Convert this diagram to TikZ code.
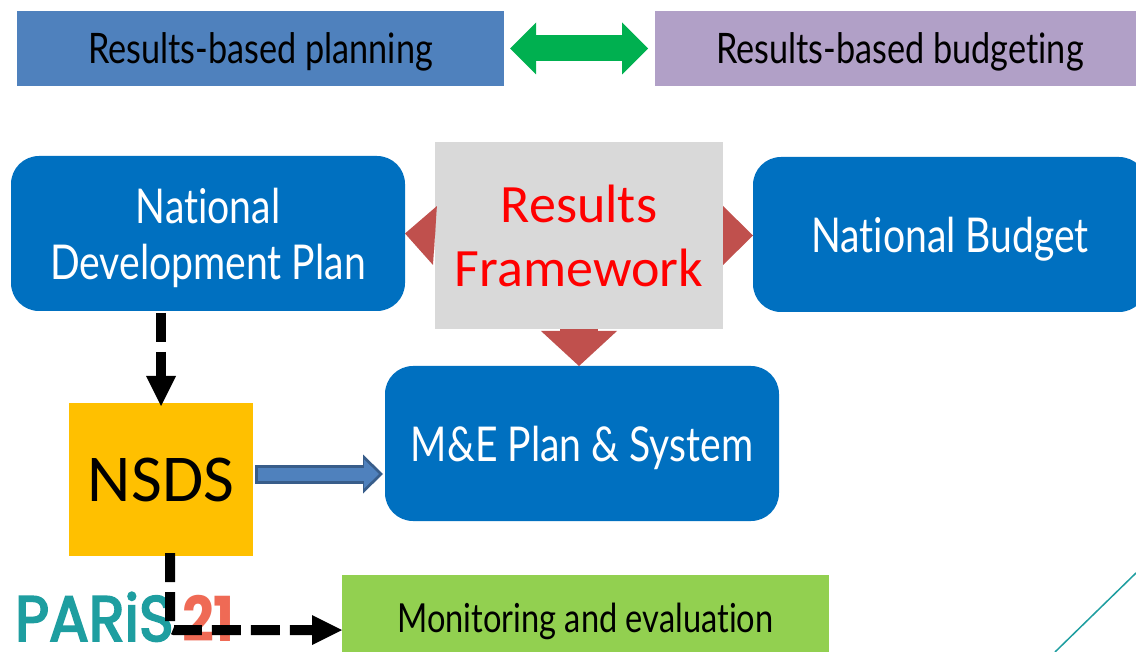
\documentclass[tikz,border=0pt]{standalone}
\usepackage{fontspec}
\setmainfont{Carlito}[Ligatures=NoCommon]
\newfontfamily\boxfont[FakeStretch=0.815,Ligatures=NoCommon]{Lato}
\newfontfamily\logofont[FakeStretch=0.92,FakeBold=3]{Poppins}
\newfontfamily\logonumfont[FakeStretch=0.9]{Poppins}
\usetikzlibrary{arrows.meta}
\usetikzlibrary{positioning}
\definecolor{planblue}{HTML}{4F81BD}
\definecolor{budgetpurple}{HTML}{B1A0C7}
\definecolor{linkgreen}{HTML}{00B050}
\definecolor{boxblue}{HTML}{0070C0}
\definecolor{framegray}{HTML}{D9D9D9}
\definecolor{nsdsyellow}{HTML}{FFC000}
\definecolor{melime}{HTML}{92D050}
\definecolor{linkred}{HTML}{C0504D}
\definecolor{edgeblue}{HTML}{385D8A}
\definecolor{logoteal}{HTML}{1E9EA0}
\definecolor{logored}{HTML}{EF6A55}
\tikzstyle{every node}=[inner sep=0pt,outer sep=0pt,align=center]
\tikzstyle{banner}=[minimum height=75pt,text=black,text depth=0pt,font=\boxfont\fontsize{42}{48}\selectfont]
\tikzstyle{blue box}=[fill=boxblue,rounded corners=28pt,text=white,text depth=0pt,font=\boxfont\fontsize{48}{56}\selectfont]
\tikzstyle{red link}=[linkred,line width=30pt,-{Triangle[length=30pt,width=59pt,line width=0pt]}]
\tikzstyle{black link}=[black,line width=10pt,dash pattern=on 29pt off 10pt,-{Triangle[length=30pt,width=30pt,line width=0pt]}]
\begin{document}
\begin{tikzpicture}[x=1pt,y=-1pt]
\path[use as bounding box,clip] (0,0) rectangle (1136,652);
\fill[white] (0,0) rectangle (1136,652);
% top row
\node[banner,fill=planblue,minimum width=487pt] (planning) at (260.5,48.5) {Results-based planning};
\node[banner,fill=budgetpurple,minimum width=490pt] (budgeting) at (900,48.5) {Results-based budgeting};
\draw[linkgreen,line width=26pt,{Triangle[length=26pt,width=52pt,line width=0pt]}-{Triangle[length=26pt,width=52pt,line width=0pt]},shorten <=6pt,shorten >=7pt] (planning.east) -- (budgeting.west);
% boxes
\node[blue box,minimum width=394pt,minimum height=155pt] (ndp) at (208,233.5) {National\\Development Plan};
\node[blue box,minimum width=394pt,minimum height=155pt] (budget) at (950,234.5) {National Budget};
\node[blue box,minimum width=394pt,minimum height=155pt] (mande) at (582,443.5) {M\&E Plan \& System};
\node[fill=framegray,minimum width=288pt,minimum height=187pt,text=red,font=\fontsize{54}{64}\selectfont] (frame) at (579,235.5) {Results\\Framework};
\node[fill=nsdsyellow,minimum width=184pt,minimum height=153pt,text=black,font=\fontsize{67}{72}\selectfont] (nsds) at (161,479.5) {NSDS};
\node[fill=melime,minimum width=487pt,minimum height=85pt,text=black,text depth=0pt,font=\boxfont\fontsize{40}{48}\selectfont] (monitoring) at (585.5,617.5) {Monitoring and evaluation};
% logo
\node[text=logoteal,font=\logofont\fontsize{64}{64}\selectfont,anchor=base west] (logoname) at (15,641) {PARiS};
\node[text=logored,font=\logonumfont\bfseries\fontsize{62}{62}\selectfont,anchor=base west] (logonum) at (182,641) {21};
% links
\draw[red link] (frame.west) -- (ndp.east);
\draw[red link] (frame.east) -- (budget.west |- frame.east);
\draw[linkred,line width=38pt,-{Triangle[length=35pt,width=76pt,line width=0pt]}] (frame.south) -- (frame.south |- mande.north);
\draw[edgeblue,line width=19pt,-{Triangle[length=20pt,width=39pt,line width=0pt]}] (nsds.east |- 0,474) ++(2,0) -- (383,474);
\draw[planblue,line width=13pt,-{Triangle[length=15pt,width=29pt,line width=0pt]}] (nsds.east |- 0,474) ++(5,0) -- (379,474);
\draw[black link] (161,313) -- (161,406);
\coordinate (nsdsout) at (170,553);
\coordinate (elbow) at (170,630);
\draw[black link,rounded corners=4pt] (nsdsout) -- (elbow) -- (monitoring.west |- elbow);
% corner line
\draw[logoteal,line width=1.5pt] (1055,652) -- (1136,573);
\end{tikzpicture}
\end{document}
